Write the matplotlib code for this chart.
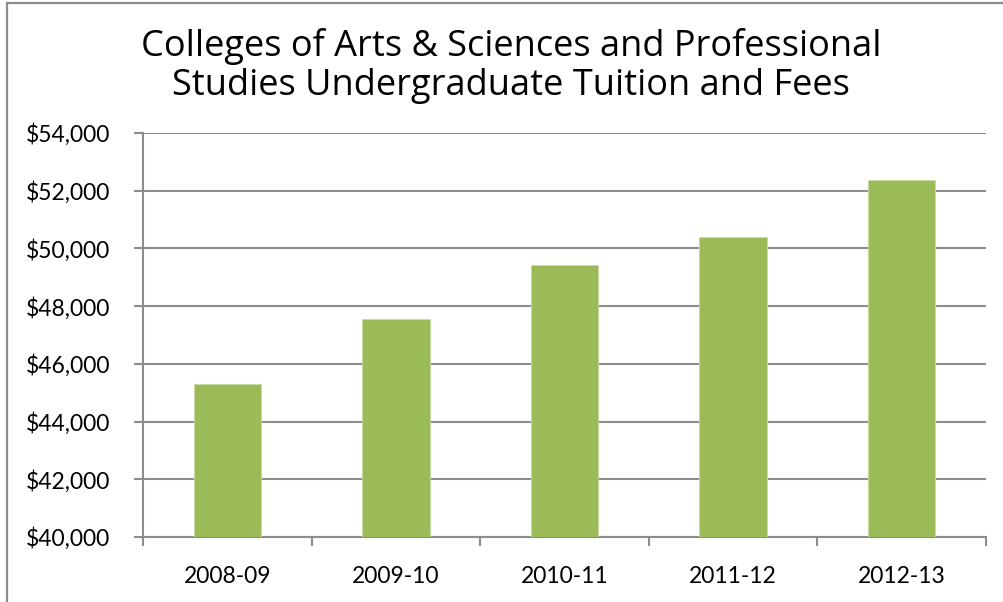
import numpy as np
import matplotlib.pyplot as plt
from matplotlib.patches import Rectangle
from matplotlib.ticker import FuncFormatter, FixedLocator

# data
years = ["2008-09", "2009-10", "2010-11", "2011-12", "2012-13"]
tuition = [45290, 47545, 49415, 50405, 52370]
y_ticks = [40000, 42000, 44000, 46000, 48000, 50000, 52000, 54000]

BAR_GREEN = "#9BBB59"
GRID_GRAY = "#8C8C8C"

W, H = 1004, 602
fig = plt.figure(figsize=(W / 100, H / 100), dpi=100)

# outer frame (only left and top edges visible in the crop)
fig.patches.append(Rectangle((7 / W, -0.1), 1.2, 1 - 3 / H + 0.1,
                             transform=fig.transFigure, fill=False,
                             edgecolor="#8C8C8C", linewidth=1.6))

ax = fig.add_axes([143 / W, 1 - 537 / H, (986 - 143) / W, (537 - 133) / H])

x = np.arange(len(years))
ax.bar(x, tuition, width=0.40, color=BAR_GREEN, edgecolor="#C9DBA3",
       linewidth=0.6, zorder=3)

ax.set_xlim(-0.5, len(years) - 0.5)
ax.set_ylim(y_ticks[0], y_ticks[-1])
ax.set_yticks(y_ticks)
ax.yaxis.set_major_formatter(FuncFormatter(lambda v, p: f"${v:,.0f}"))
ax.set_xticks(x)
ax.set_xticklabels(years)
ax.xaxis.set_minor_locator(FixedLocator(np.arange(len(years) + 1) - 0.5))

ax.grid(axis="y", color=GRID_GRAY, linewidth=1.5, zorder=0)
for s in ["top", "right"]:
    ax.spines[s].set_visible(False)
for s in ["left", "bottom"]:
    ax.spines[s].set_color(GRID_GRAY)
    ax.spines[s].set_linewidth(1.5)

ax.tick_params(axis="y", length=6.5, width=1.5, color=GRID_GRAY, pad=17,
               labelsize=16.5)
ax.tick_params(axis="x", which="major", length=0, pad=21, labelsize=16.5)
ax.tick_params(axis="x", which="minor", length=6.5, width=1.5, color=GRID_GRAY)
for lbl in ax.get_xticklabels() + ax.get_yticklabels():
    lbl.set_fontfamily("Lato")

fig.text(511 / W, 1 - 66 / H,
         "Colleges of Arts & Sciences and Professional\n"
         "Studies Undergraduate Tuition and Fees",
         ha="center", va="center", fontsize=26, fontfamily="Open Sans",
         linespacing=1.1)

fig.savefig("out.png", dpi=100)
